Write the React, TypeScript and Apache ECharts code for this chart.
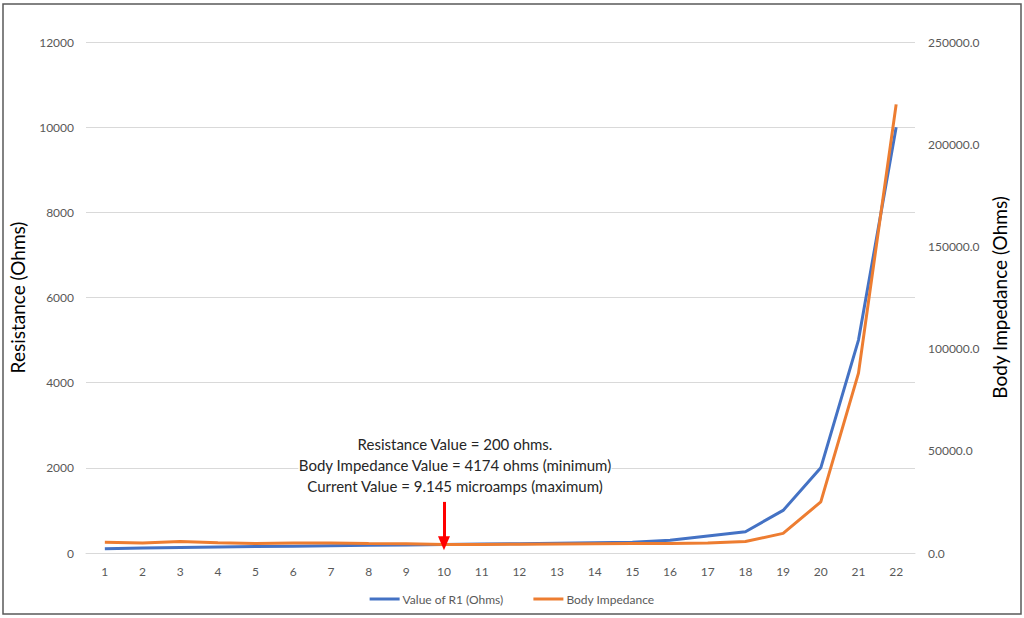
import React, { useEffect, useRef } from 'react'
import * as echarts from 'echarts'

const steps = ['1', '2', '3', '4', '5', '6', '7', '8', '9', '10', '11', '12', '13', '14', '15', '16', '17', '18', '19', '20', '21', '22']

// Value of R1 (Ohms), left axis
const r1Values = [100, 120, 130, 140, 150, 160, 170, 180, 190, 200, 210, 220, 230, 240, 250, 300, 400, 500, 1000, 2000, 5000, 10000]

// Body Impedance (Ohms), right axis
const impedanceValues = [
    5200, 4900, 5600, 5000, 4700, 4900, 4900, 4600, 4500, 4174, 4200, 4300, 4400, 4500, 4600, 4700, 4900, 5600, 9600,
    25000, 88000, 219500,
]

const noteLines = [
    'Resistance Value = 200 ohms.',
    'Body Impedance Value = 4174 ohms (minimum)',
    'Current Value = 9.145 microamps (maximum)',
]

const FONT = 'Lato, "Open Sans", sans-serif'

const App: React.FC = () => {
    const chartRef = useRef<HTMLDivElement>(null)

    useEffect(() => {
        document.body.style.margin = '0'
        const chart = echarts.init(chartRef.current, null, { renderer: 'svg' })

        const option = {
            animation: false,
            textStyle: { fontFamily: FONT },
            grid: { left: 84, right: 109, top: 42, bottom: 65 },
            legend: {
                bottom: 8,
                left: 'center',
                icon: 'rect',
                itemWidth: 30,
                itemHeight: 3,
                itemGap: 30,
                textStyle: { color: '#595959', fontSize: 12, padding: [0, 0, 0, -2] },
            },
            graphic: [
                {
                    type: 'rect',
                    shape: { x: 3, y: 4, width: 1018, height: 610 },
                    style: { fill: 'none', stroke: '#595959', lineWidth: 1.5 },
                    silent: true,
                },
                {
                    type: 'text',
                    x: 455,
                    y: 433,
                    z: 100,
                    style: {
                        text: noteLines.join('\n'),
                        align: 'center',
                        verticalAlign: 'top',
                        lineHeight: 21,
                        fontSize: 15,
                        fontFamily: FONT,
                        fill: '#262626',
                        backgroundColor: '#ffffff',
                    },
                },
            ],
            xAxis: {
                type: 'category',
                data: steps,
                boundaryGap: true,
                axisLine: { lineStyle: { color: '#d9d9d9', width: 1 } },
                axisTick: { show: false },
                axisLabel: { color: '#595959', fontSize: 12, margin: 12 },
            },
            yAxis: [
                {
                    type: 'value',
                    min: 0,
                    max: 12000,
                    interval: 2000,
                    name: 'Resistance (Ohms)',
                    nameLocation: 'middle',
                    nameGap: 59,
                    nameTextStyle: { color: '#000', fontSize: 19 },
                    axisLine: { show: false },
                    axisTick: { show: false },
                    axisLabel: {
                        color: '#595959',
                        fontSize: 12,
                        margin: 12,
                        formatter: (v: number) => String(v),
                    },
                    splitLine: { lineStyle: { color: '#d9d9d9' } },
                },
                {
                    type: 'value',
                    min: 0,
                    max: 250000,
                    interval: 50000,
                    name: 'Body Impedance (Ohms)',
                    nameLocation: 'middle',
                    nameGap: 74,
                    nameRotate: 90,
                    nameTextStyle: { color: '#000', fontSize: 19 },
                    axisLine: { show: false },
                    axisTick: { show: false },
                    axisLabel: {
                        color: '#595959',
                        fontSize: 12,
                        margin: 13,
                        formatter: (v: number) => v.toFixed(1),
                    },
                    splitLine: { show: false },
                },
            ],
            series: [
                {
                    name: 'Value of R1 (Ohms)',
                    type: 'line',
                    yAxisIndex: 0,
                    data: r1Values,
                    symbol: 'none',
                    lineStyle: { color: '#4472C4', width: 3 },
                    itemStyle: { color: '#4472C4' },
                    z: 2,
                    markLine: {
                        silent: true,
                        symbol: ['none', 'triangle'],
                        symbolSize: [12, 14],
                        label: { show: false },
                        lineStyle: { color: '#ff0000', width: 3, type: 'solid' },
                        data: [
                            [
                                { coord: ['10', 1200] },
                                { coord: ['10', 230] },
                            ],
                        ],
                    },
                },
                {
                    name: 'Body Impedance',
                    type: 'line',
                    yAxisIndex: 1,
                    data: impedanceValues,
                    symbol: 'none',
                    lineStyle: { color: '#ED7D31', width: 3 },
                    itemStyle: { color: '#ED7D31' },
                    z: 3,
                },
            ],
        }

        chart.setOption(option)

        return () => {
            chart.dispose()
        }
    }, [])

    return <div ref={chartRef} style={{ width: '1024px', height: '618px' }} />
}

export default App
